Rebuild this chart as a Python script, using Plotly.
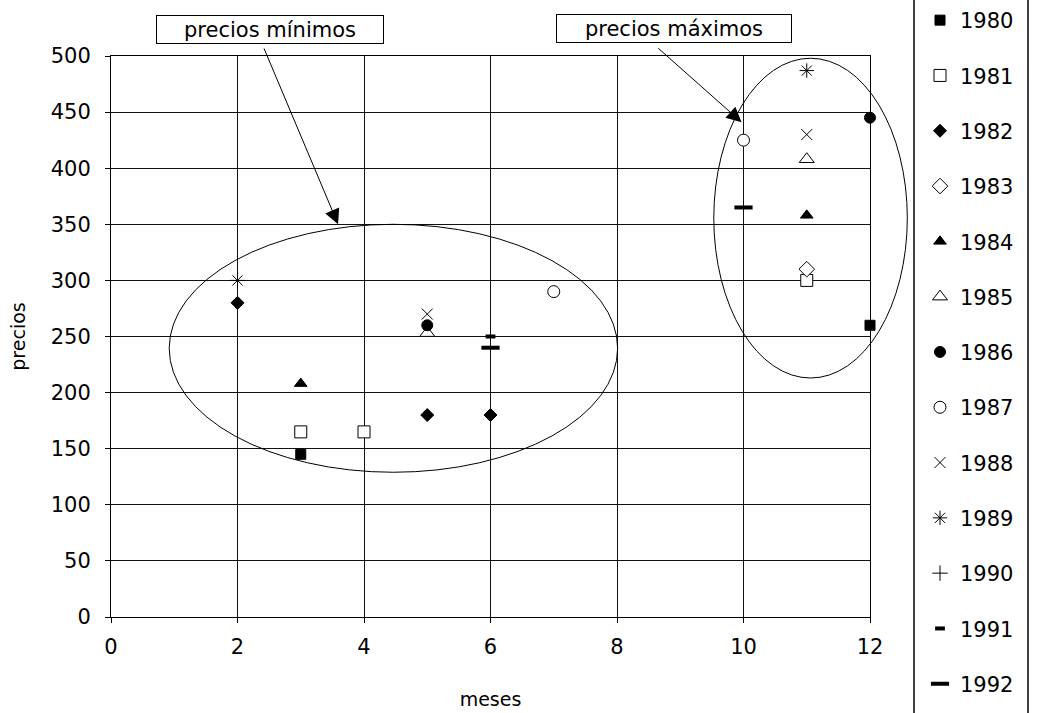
import plotly.graph_objects as go

# ---------------- data ----------------
years = ["1980", "1981", "1982", "1983", "1984", "1985", "1986",
         "1987", "1988", "1989", "1990", "1991", "1992"]

x1980 = [3, 12];      y1980 = [145, 260]
x1981 = [3, 4, 11];   y1981 = [165, 165, 300]
x1982 = [2, 5, 6];    y1982 = [280, 180, 180]
x1983 = [11];         y1983 = [310]
x1984 = [3, 11];      y1984 = [208, 358]
x1985 = [5, 11];      y1985 = [253, 408]
x1986 = [5, 12];      y1986 = [260, 445]
x1987 = [7, 10];      y1987 = [290, 425]
x1988 = [5, 11];      y1988 = [270, 430]
x1989 = [2, 11];      y1989 = [300, 487]
x1990 = [None];       y1990 = [None]   # no point visible for 1990
x1991 = [6];          y1991 = [250]
x1992 = [6, 10];      y1992 = [240, 365]

x_ticks = [0, 2, 4, 6, 8, 10, 12]
y_ticks = [0, 50, 100, 150, 200, 250, 300, 350, 400, 450, 500]

label_min = "precios mínimos"
label_max = "precios máximos"
x_title = "meses"
y_title = "precios"

# ---------------- styling ----------------
W, H = 1046, 713
ML, MR, MT, MB = 111, 176, 56, 96
PW, PH = W - ML - MR, H - MT - MB
XMAX, YMAX = 12, 500
FONT = "DejaVu Sans"


def pxx(px):
    return (px - ML) / PW


def pxy(py):
    return (H - MB - py) / PH


styles = {
    "1980": dict(symbol="square", size=10, color="black", line=dict(color="black", width=1)),
    "1981": dict(symbol="square", size=12, color="white", line=dict(color="black", width=1)),
    "1982": dict(symbol="diamond", size=10, color="black", line=dict(color="black", width=1)),
    "1983": dict(symbol="diamond", size=12, color="white", line=dict(color="black", width=1)),
    "1984": dict(symbol="triangle-up", size=11, color="black", line=dict(color="black", width=1)),
    "1985": dict(symbol="triangle-up", size=13, color="white", line=dict(color="black", width=1)),
    "1986": dict(symbol="circle", size=11, color="black", line=dict(color="black", width=1)),
    "1987": dict(symbol="circle", size=12, color="white", line=dict(color="black", width=1)),
    "1988": dict(symbol="x-thin-open", size=11, color="black", line=dict(color="black", width=1)),
    "1989": dict(symbol="asterisk-open", size=12, color="black", line=dict(color="black", width=1)),
    "1990": dict(symbol="cross-thin-open", size=11, color="black", line=dict(color="black", width=1)),
    "1991": dict(symbol="line-ew-open", size=7, color="black", line=dict(color="black", width=4)),
    "1992": dict(symbol="line-ew-open", size=13, color="black", line=dict(color="black", width=4)),
}

xs = [x1980, x1981, x1982, x1983, x1984, x1985, x1986,
      x1987, x1988, x1989, x1990, x1991, x1992]
ys = [y1980, y1981, y1982, y1983, y1984, y1985, y1986,
      y1987, y1988, y1989, y1990, y1991, y1992]

fig = go.Figure()
for yr, xv, yv in zip(years, xs, ys):
    fig.add_trace(go.Scatter(x=xv, y=yv, mode="markers", name=yr,
                             legendgroup=yr, marker=styles[yr],
                             cliponaxis=False))

axis_common = dict(showgrid=True, gridcolor="#111111", gridwidth=1,
                   showline=True, linecolor="black", linewidth=1, mirror=True,
                   ticks="outside", ticklen=5, tickcolor="black",
                   zeroline=False,
                   tickfont=dict(family=FONT, size=21, color="black"))

fig.update_xaxes(range=[0, XMAX], tickvals=x_ticks, **axis_common,
                 ticklabelstandoff=6,
                 title=dict(text=x_title, font=dict(family=FONT, size=19, color="black"),
                            standoff=34))
fig.update_yaxes(range=[0, YMAX], tickvals=y_ticks, **axis_common,
                 ticklabelstandoff=10,
                 title=dict(text=y_title, font=dict(family=FONT, size=19, color="black"),
                            standoff=20))

shapes = [
    # ellipse around the minimum prices
    dict(type="circle", xref="x", yref="y", x0=0.92, x1=8.01, y0=129, y1=350,
         line=dict(color="black", width=1), layer="above"),
    # ellipse around the maximum prices (extends past the plot area)
    dict(type="circle", xref="paper", yref="paper", x0=9.53 / XMAX, x1=12.59 / XMAX,
         y0=213 / YMAX, y1=498 / YMAX, line=dict(color="black", width=1), layer="above"),
    # legend frame: left and right sides (kept inside the page)
    dict(type="line", xref="paper", yref="paper", x0=pxx(914), x1=pxx(914),
         y0=pxy(H), y1=pxy(0), line=dict(color="black", width=1.5), layer="above"),
    dict(type="line", xref="paper", yref="paper", x0=pxx(1028), x1=pxx(1028),
         y0=pxy(H), y1=pxy(0), line=dict(color="black", width=1.5), layer="above"),
]

annotations = [
    dict(text=label_min, xref="paper", yref="paper", x=pxx(270), y=pxy(29.5),
         xanchor="center", yanchor="middle",
         showarrow=False, bordercolor="black", borderwidth=1, bgcolor="white",
         width=224, height=25, borderpad=1,
         font=dict(family=FONT, size=21, color="black")),
    dict(text=label_max, xref="paper", yref="paper", x=pxx(674), y=pxy(28),
         xanchor="center", yanchor="middle",
         showarrow=False, bordercolor="black", borderwidth=1, bgcolor="white",
         width=232, height=25, borderpad=1,
         font=dict(family=FONT, size=21, color="black")),
    dict(text="", xref="x", yref="y", x=3.59, y=350, axref="x", ayref="y",
         ax=2.41, ay=508, showarrow=True, arrowhead=2, arrowsize=3,
         arrowwidth=1, arrowcolor="black"),
    dict(text="", xref="x", yref="y", x=9.97, y=441, axref="x", ayref="y",
         ax=8.63, ay=508, showarrow=True, arrowhead=2, arrowsize=3,
         arrowwidth=1, arrowcolor="black"),
]

fig.update_layout(
    width=W, height=H,
    margin=dict(l=ML, r=MR, t=MT, b=MB, autoexpand=False),
    paper_bgcolor="white", plot_bgcolor="white",
    font=dict(family=FONT, size=19, color="black"),
    shapes=shapes, annotations=annotations,
    showlegend=True,
    legend=dict(x=pxx(920), y=pxy(0), xanchor="left", yanchor="top",
                tracegroupgap=25, font=dict(family=FONT, size=21, color="black"),
                bgcolor="rgba(0,0,0,0)", borderwidth=0, maxheight=1500,
                itemclick=False, itemdoubleclick=False),
)

fig.write_html("out.html")
